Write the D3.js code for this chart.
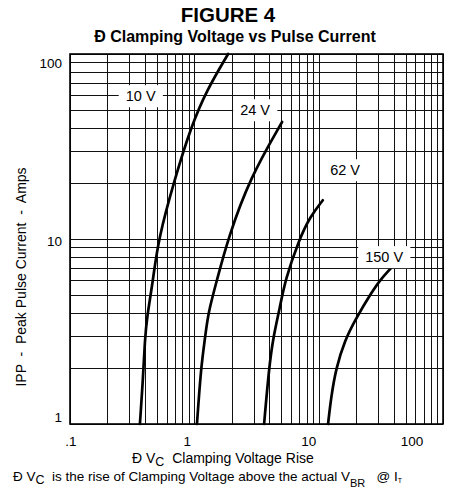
<!DOCTYPE html>
<html lang="en">
<head>
  <meta charset="utf-8">
  <title>Figure 4</title>
  <script src="https://d3js.org/d3.v7.min.js"></script>
  <style>
    body { margin: 0; background: #fff; }
    text { font-family: "Liberation Sans", Arial, Helvetica, sans-serif; fill: #000; }
    .grid line { stroke: #111; stroke-width: 1; shape-rendering: crispEdges; }
    .curve { fill: none; stroke: #000; stroke-width: 2.7; stroke-linecap: round; }
  </style>
</head>
<body>
<script>
// tick values / labels
var xTicks = [0.1, 1, 10, 100];
var xTickLabels = [".1", "1", "10", "100"];
var yTicks = [1, 10, 100];
var yTickLabels = ["1", "10", "100"];

// clamping voltage rise (V) vs peak pulse current (A)
var rise10 = [0.365, 0.386, 0.40, 0.416, 0.466, 0.511, 0.70, 0.94, 1.26, 1.87];
var ipp10  = [1, 1.73, 2.85, 3.79, 6.0, 9.9, 21.4, 40.3, 63.9, 100];
var rise24 = [1.05, 1.13, 1.22, 1.29, 1.52, 1.87, 2.80, 5.08];
var ipp24  = [1, 2.01, 2.92, 3.98, 6.0, 10.1, 21.4, 42.9];
var rise62 = [3.64, 3.99, 4.30, 4.89, 5.37, 6.95, 8.53, 10.8];
var ipp62  = [1, 2.01, 2.92, 4.29, 6.0, 9.9, 13.2, 16.2];
var rise150 = [11.9, 12.6, 13.8, 16.3, 19.6, 27.4, 31.2, 38.9];
var ipp150  = [1, 1.40, 2.01, 2.85, 3.65, 5.30, 6.0, 7.06];

var curveNames = ["10 V", "24 V", "62 V", "150 V"];
var labelRise = [0.37, 3.08, 16.3, 33.6];
var labelIpp = [59.3, 49.8, 23.6, 8.0];

// the printed tick labels sit a bit off their gridlines in the original
var xTickShift = [1, -7, -10, -31];
var yTickShift = [-7, 2, 9];

var W = 457, H = 492;
var margin = {top: 54, right: 14, bottom: 68, left: 70};

var svg = d3.select("body").append("svg")
  .attr("width", W)
  .attr("height", H);

var x = d3.scaleLog().domain([0.1, 100]).range([margin.left, W - margin.right]);
var y = d3.scaleLog().domain([1, 100]).range([H - margin.bottom, margin.top]);

// titles
svg.append("text")
  .attr("x", 228).attr("y", 22)
  .attr("text-anchor", "middle")
  .style("font-size", "20.5px").style("font-weight", "bold")
  .text("FIGURE 4");
svg.append("text")
  .attr("x", 235).attr("y", 42)
  .attr("text-anchor", "middle")
  .style("font-size", "16px").style("font-weight", "bold")
  .text("Đ Clamping Voltage vs Pulse Current");

// grid
var grid = svg.append("g").attr("class", "grid");
grid.selectAll(".vx")
  .data(x.ticks())
  .enter().append("line")
  .attr("x1", function(d) { return Math.round(x(d)) + 0.5; })
  .attr("x2", function(d) { return Math.round(x(d)) + 0.5; })
  .attr("y1", y(1)).attr("y2", y(100));
grid.selectAll(".hy")
  .data(y.ticks())
  .enter().append("line")
  .attr("y1", function(d) { return Math.round(y(d)) + 0.5; })
  .attr("y2", function(d) { return Math.round(y(d)) + 0.5; })
  .attr("x1", x(0.1)).attr("x2", x(100));

svg.append("rect")
  .attr("x", x(0.1)).attr("y", y(100))
  .attr("width", x(100) - x(0.1))
  .attr("height", y(1) - y(100))
  .attr("fill", "none").attr("stroke", "#000").attr("stroke-width", 1.6);

// curves
var line = d3.line()
  .x(function(d) { return x(d[0]); })
  .y(function(d) { return y(d[1]); })
  .curve(d3.curveBasis);

var series = [d3.zip(rise10, ipp10), d3.zip(rise24, ipp24), d3.zip(rise62, ipp62), d3.zip(rise150, ipp150)];
svg.selectAll(".curve")
  .data(series)
  .enter().append("path")
  .attr("class", "curve")
  .attr("d", line);

// curve labels on white patches
var lab = svg.selectAll(".lab")
  .data(curveNames)
  .enter().append("g")
  .attr("transform", function(d, i) { return "translate(" + x(labelRise[i]) + "," + y(labelIpp[i]) + ")"; });
lab.append("text")
  .attr("text-anchor", "middle")
  .attr("dy", "0.36em")
  .style("font-size", "14.5px")
  .text(function(d) { return d; });
lab.each(function() {
  var g = d3.select(this);
  var bb = g.select("text").node().getBBox();
  g.insert("rect", "text")
    .attr("x", bb.x - 7).attr("y", bb.y - 3)
    .attr("width", bb.width + 14).attr("height", bb.height + 6)
    .attr("fill", "#fff");
});

// tick labels
svg.selectAll(".xt")
  .data(xTicks)
  .enter().append("text")
  .attr("x", function(d, i) { return x(d) + xTickShift[i]; })
  .attr("y", 446)
  .attr("text-anchor", "middle")
  .style("font-size", "13.5px")
  .text(function(d, i) { return xTickLabels[i]; });
svg.selectAll(".yt")
  .data(yTicks)
  .enter().append("text")
  .attr("x", 62)
  .attr("y", function(d, i) { return y(d) + yTickShift[i]; })
  .attr("dy", "0.36em")
  .attr("text-anchor", "end")
  .style("font-size", "13.5px")
  .text(function(d, i) { return yTickLabels[i]; });

// axis titles
svg.append("text")
  .attr("transform", "translate(26,277) rotate(-90)")
  .attr("text-anchor", "middle")
  .style("font-size", "14px")
  .style("white-space", "pre")
  .text("IPP  -  Peak Pulse Current  -  Amps");

var xl = svg.append("text")
  .attr("x", 132).attr("y", 463)
  .style("font-size", "14px")
  .style("white-space", "pre");
xl.append("tspan").text("Đ V");
xl.append("tspan").attr("dy", 3).style("font-size", "12.5px").text("C");
xl.append("tspan").attr("dy", -3).text("  Clamping Voltage Rise");

var fn = svg.append("text")
  .attr("x", 13).attr("y", 481)
  .style("font-size", "13.5px")
  .style("white-space", "pre");
fn.append("tspan").text("Đ V");
fn.append("tspan").attr("dy", 3).style("font-size", "12.5px").text("C");
fn.append("tspan").attr("dy", -3).text("  is the rise of Clamping Voltage above the actual V");
fn.append("tspan").attr("dy", 6).style("font-size", "11px").text("BR");
fn.append("tspan").attr("dy", -6).text("   @ I");
fn.append("tspan").attr("dy", 2).style("font-size", "7px").text("T");
</script>
</body>
</html>
